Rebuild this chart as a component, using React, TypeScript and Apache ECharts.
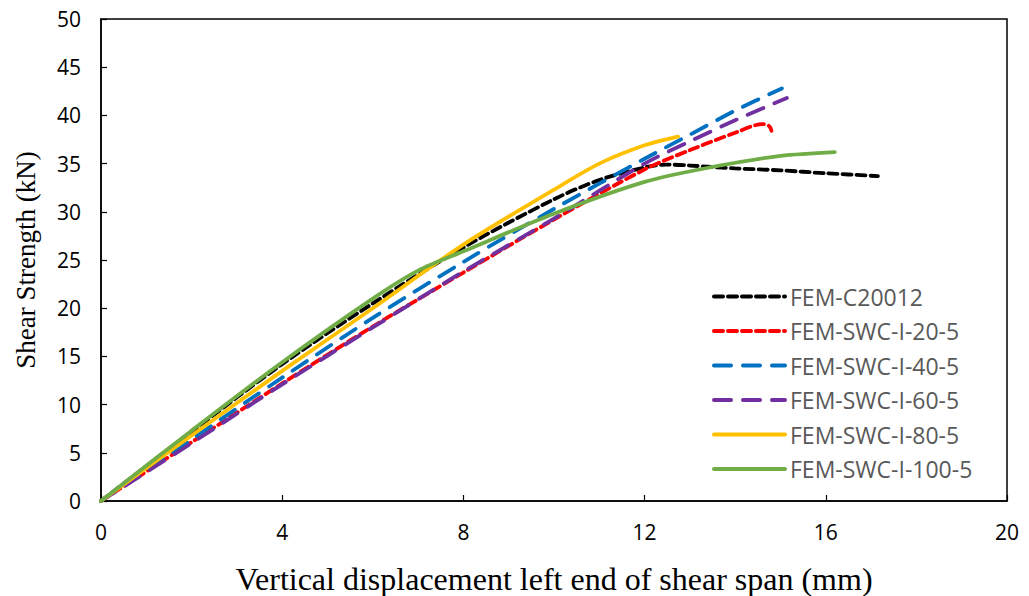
import React, { useEffect, useRef } from "react";
import * as echarts from "echarts";

const seriesNames = [
  "FEM-C20012",
  "FEM-SWC-I-20-5",
  "FEM-SWC-I-40-5",
  "FEM-SWC-I-60-5",
  "FEM-SWC-I-80-5",
  "FEM-SWC-I-100-5",
];

const c20012: [number, number][] = [
  [0, 0], [2, 7.2], [4, 14.2], [6, 20.5], [8, 26.3], [10, 31.3], [11, 33.3],
  [12, 34.6], [12.5, 34.9], [13, 34.8], [14, 34.5], [15, 34.3], [16, 34.0], [17.15, 33.7],
];
const swc20: [number, number][] = [
  [0, 0], [2, 6.1], [4, 12.2], [6, 18.1], [8, 23.7], [10, 29.2], [12, 34.4],
  [13, 36.4], [14, 38.2], [14.6, 39.1], [14.75, 38.9], [14.8, 38.4],
];
const swc40: [number, number][] = [
  [0, 0], [2, 6.4], [4, 12.8], [6, 19.0], [8, 24.8], [10, 30.3], [12, 35.5],
  [13, 38.0], [14, 40.5], [15.03, 42.8],
];
const swc60: [number, number][] = [
  [0, 0], [2, 6.0], [4, 12.1], [6, 18.0], [8, 23.8], [10, 29.3], [12, 35.0],
  [13, 37.3], [14, 39.5], [15.14, 41.8],
];
const swc80: [number, number][] = [
  [0, 0], [2, 6.8], [4, 13.5], [6, 20.0], [8, 26.6], [10, 32.3], [11, 35.0],
  [12, 36.9], [12.74, 37.8],
];
const swc100: [number, number][] = [
  [0, 0], [2, 7.3], [4, 14.4], [6, 21.0], [7, 23.9], [8, 25.9], [10, 29.8],
  [12, 33.1], [13.44, 34.6], [15, 35.8], [16.2, 36.2],
];

const xTicks = { min: 0, max: 20, interval: 4 };
const yTicks = { min: 0, max: 50, interval: 5 };

const styles = [
  { color: "#000000", type: [9, 5] as number[] },
  { color: "#FF0000", type: [9, 5] as number[] },
  { color: "#0070C0", type: [17, 12] as number[] },
  { color: "#7030A0", type: [17, 12] as number[] },
  { color: "#FFC000", type: "solid" },
  { color: "#70AD47", type: "solid" },
];

export default function App() {
  const ref = useRef<HTMLDivElement>(null);
  useEffect(() => {
    if (!ref.current) return;
    const chart = echarts.init(ref.current, null, { renderer: "svg" });
    const datasets = [c20012, swc20, swc40, swc60, swc80, swc100];
    chart.setOption({
      animation: false,
      backgroundColor: "#ffffff",
      grid: {
        left: 101,
        right: 22,
        top: 19,
        bottom: 95,
        show: true,
        borderColor: "#000000",
        borderWidth: 1.5,
        outerBoundsMode: "none",
        containLabel: false,
      },
      legend: {
        orient: "vertical",
        left: 707,
        top: 280,
        itemWidth: 71,
        itemHeight: 14,
        itemGap: 11.5,
        data: seriesNames,
        itemStyle: { opacity: 0 },
        lineStyle: { width: 4 },
        textStyle: {
          fontFamily: "Open Sans",
          fontSize: 23,
          color: "#595959",
        },
      },
      xAxis: {
        type: "value",
        ...xTicks,
        name: "Vertical displacement left end of shear span (mm)",
        nameLocation: "middle",
        nameGap: 62,
        nameTextStyle: { fontFamily: "Liberation Serif", fontSize: 32, color: "#000" },
        axisLine: { lineStyle: { color: "#000", width: 1.5 } },
        axisTick: { inside: true, length: 6, lineStyle: { color: "#000", width: 1.2 } },
        axisLabel: { fontFamily: "Open Sans", fontSize: 21, color: "#000", margin: 20 },
        splitLine: { show: false },
      },
      yAxis: {
        type: "value",
        ...yTicks,
        name: "Shear Strength (kN)",
        nameLocation: "middle",
        nameGap: 62,
        nameTextStyle: { fontFamily: "Liberation Serif", fontSize: 27, color: "#000" },
        axisLine: { show: true, lineStyle: { color: "#000", width: 1.5 } },
        axisTick: { show: true, inside: true, length: 6, lineStyle: { color: "#000", width: 1.2 } },
        axisLabel: { fontFamily: "Open Sans", fontSize: 21, color: "#000", margin: 20 },
        splitLine: { show: false },
      },
      series: seriesNames.map((name, i) => ({
        name,
        type: "line",
        data: datasets[i],
        smooth: 0.3,
        showSymbol: false,
        symbol: "none",
        color: styles[i].color,
        lineStyle: { color: styles[i].color, width: 3.8, type: styles[i].type, cap: "round" },
      })),
    });
    return () => chart.dispose();
  }, []);
  return (
    <div
      ref={ref}
      style={{ position: "fixed", left: 0, top: 0, width: 1029, height: 596 }}
    />
  );
}
